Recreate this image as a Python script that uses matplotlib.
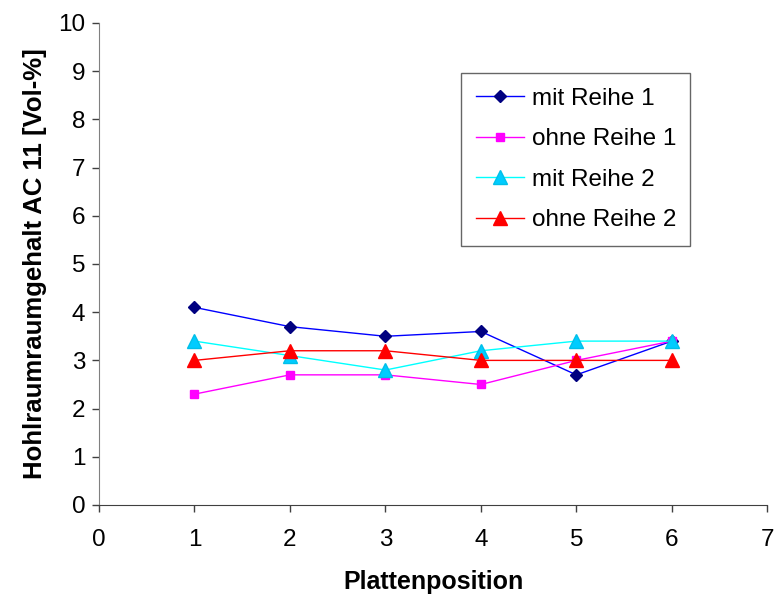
import matplotlib
matplotlib.use("Agg")
import matplotlib.pyplot as plt

plt.rcParams['font.family'] = ['Liberation Sans', 'DejaVu Sans']

positions = [1, 2, 3, 4, 5, 6]
mit_reihe_1 = [4.1, 3.7, 3.5, 3.6, 2.7, 3.4]
ohne_reihe_1 = [2.3, 2.7, 2.7, 2.5, 3.0, 3.4]
mit_reihe_2 = [3.4, 3.1, 2.8, 3.2, 3.4, 3.4]
ohne_reihe_2 = [3.0, 3.2, 3.2, 3.0, 3.0, 3.0]

x_ticks = [0, 1, 2, 3, 4, 5, 6, 7]
y_ticks = [0, 1, 2, 3, 4, 5, 6, 7, 8, 9, 10]

fig = plt.figure(figsize=(7.76, 6.05), dpi=100)
ax = fig.add_axes([0.1276, 0.1653, 0.8612, 0.7967])

ax.plot(positions, mit_reihe_1, color='#0000FF', lw=1.0, marker='D', ms=6,
        mfc='#000080', mec='#000080', label='mit Reihe 1')
ax.plot(positions, ohne_reihe_1, color='#FF00FF', lw=1.0, marker='s', ms=6,
        mfc='#FF00FF', mec='#FF00FF', label='ohne Reihe 1')
ax.plot(positions, mit_reihe_2, color='#00FFFF', lw=1.0, marker='^', ms=10,
        mfc='#00CCFF', mec='#00BFE8', label='mit Reihe 2')
ax.plot(positions, ohne_reihe_2, color='#FF0000', lw=1.0, marker='^', ms=10,
        mfc='#FF0000', mec='#FF0000', label='ohne Reihe 2')

ax.set_xlim(0, 7)
ax.set_ylim(0, 10)
ax.set_xticks(x_ticks)
ax.set_yticks(y_ticks)
ax.tick_params(axis='both', labelsize=17.5, direction='out', length=5,
               width=1, color='#404040')
ax.tick_params(axis='x', pad=12)
ax.tick_params(axis='y', pad=5)

for side in ('top', 'right'):
    ax.spines[side].set_visible(False)
ax.spines['left'].set_color('#808080')
ax.spines['bottom'].set_color('#404040')

ax.set_xlabel('Plattenposition', fontsize=18, fontweight='bold', labelpad=14)
ax.set_ylabel('Hohlraumraumgehalt AC 11 [Vol-%]', fontsize=18.5,
              fontweight='bold', labelpad=8)

leg = ax.legend(loc='upper left', bbox_to_anchor=(0.5417, 0.896),
                fontsize=17.5, frameon=True, fancybox=False, borderpad=0.6,
                labelspacing=0.76, handlelength=2.0, handletextpad=0.3,
                borderaxespad=0)
leg.get_frame().set_edgecolor('#404040')
leg.get_frame().set_linewidth(1.0)

fig.savefig('out.png', dpi=100)
